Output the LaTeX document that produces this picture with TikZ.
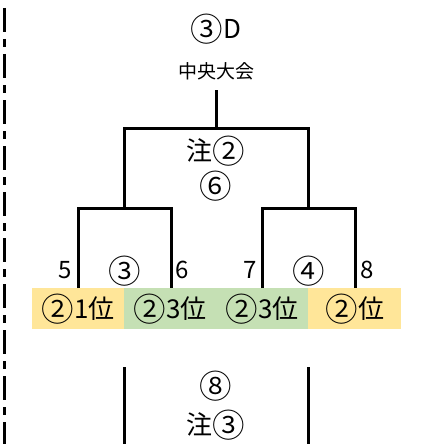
\documentclass[tikz,border=0pt]{standalone}
\usepackage{fontspec}
\setmainfont{Noto Sans CJK JP}
\newfontfamily\circfont{Noto Sans CJK JP DemiLight}
\newcommand\cd[1]{{\circfont\raisebox{-0.12em}{\scalebox{1.25}{#1}}}}
\begin{document}
\begin{tikzpicture}[x=1pt,y=-1pt,
  br/.style={line width=3pt},
  lbl/.style={inner sep=0pt,font=\fontsize{26}{28}\selectfont},
  small/.style={inner sep=0pt,font=\fontsize{19}{21}\selectfont},
  num/.style={inner sep=0pt,font=\fontsize{24}{26}\selectfont}]
\definecolor{bandY}{HTML}{FFE699}
\definecolor{bandG}{HTML}{C5E0B4}
\useasboundingbox (0,0) rectangle (423,444);
% left dash-dot line
\coordinate (dTop) at (4.5,8);
\coordinate (dBot) at (4.5,444);
\draw[line width=3pt,dash pattern=on 24pt off 7pt on 8pt off 7pt] (dTop) -- (dBot);
% color band
\fill[bandY] (32,288) rectangle (124,329);
\fill[bandG] (124,288) rectangle (308,329);
\fill[bandY] (308,288) rectangle (401,329);
% bracket coordinates
\coordinate (top) at (216,90);
\coordinate (mid) at (216,128);
\coordinate (L1) at (124,128);
\coordinate (R1) at (308,128);
\coordinate (L1b) at (124,208);
\coordinate (R1b) at (308,208);
\coordinate (a1) at (78,208);
\coordinate (a2) at (171,208);
\coordinate (b1) at (262,208);
\coordinate (b2) at (355,208);
\coordinate (a1b) at (78,288);
\coordinate (a2b) at (171,288);
\coordinate (b1b) at (262,288);
\coordinate (b2b) at (355,288);
\coordinate (c1) at (124,367);
\coordinate (c1b) at (124,444);
\coordinate (c2) at (308,367);
\coordinate (c2b) at (308,444);
\draw[br] (top) -- (mid);
\draw[br] (L1b) -- (L1) -- (R1) -- (R1b);
\draw[br] (a1b) -- (a1) -- (a2) -- (a2b);
\draw[br] (b1b) -- (b1) -- (b2) -- (b2b);
\draw[br] (c1) -- (c1b);
\draw[br] (c2) -- (c2b);
% texts
\node[lbl] (t3D) at (216,29) {\cd{③}D};
\node[small] (tchuo) at (216,71) {中央大会};
\node[lbl] (tn2) at (216,151) {注\cd{②}};
\node[lbl] (t6) at (216,186) {\cd{⑥}};
\node[num] (n5) at (65,270) {5};
\node[lbl] (c3) at (125,271) {\cd{③}};
\node[num] (n6) at (182,270) {6};
\node[num] (n7) at (250,270) {7};
\node[lbl] (c4) at (309,271) {\cd{④}};
\node[num] (n8) at (367,270) {8};
\node[lbl] (r1) at (78,309) {\cd{②}1位};
\node[lbl] (r2) at (170,309) {\cd{②}3位};
\node[lbl] (r3) at (262,309) {\cd{②}3位};
\node[lbl] (r4) at (355,309) {\cd{②}位};
\node[lbl] (t8) at (216,386) {\cd{⑧}};
\node[lbl] (tn3) at (216,425) {注\cd{③}};
\end{tikzpicture}
\end{document}
